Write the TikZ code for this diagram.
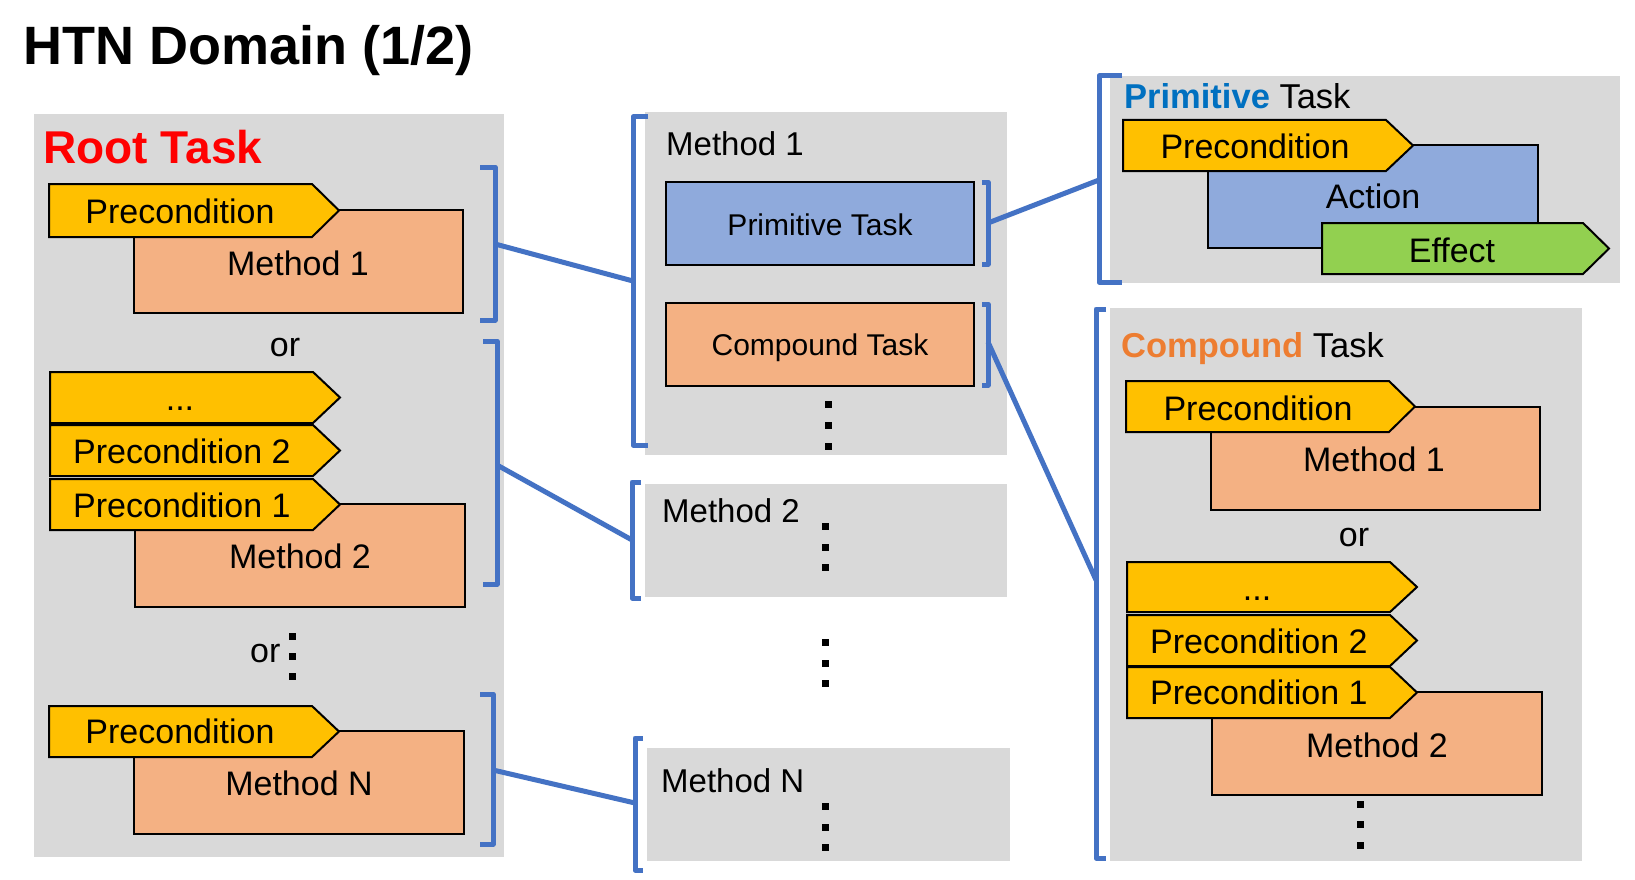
\documentclass[tikz,border=0pt]{standalone}
\usepackage{fontspec}
\setmainfont{Liberation Sans}
\newcommand\myfs[1]{\fontsize{#1}{#1}\selectfont}
\definecolor{panel}{HTML}{D9D9D9}
\definecolor{pregold}{HTML}{FFC000}
\definecolor{methfill}{HTML}{F4B183}
\definecolor{primfill}{HTML}{8FAADC}
\definecolor{efffill}{HTML}{92D050}
\definecolor{brk}{HTML}{4472C4}
\definecolor{ptitle}{HTML}{0070C0}
\definecolor{ctitle}{HTML}{ED7D31}
\tikzset{
  panelbox/.style={fill=panel, draw=none},
  prebox/.style={fill=pregold, draw=black, line width=2pt, line join=miter},
  methbox/.style={fill=methfill, draw=black, line width=2pt},
  primbox/.style={fill=primfill, draw=black, line width=2pt},
  effbox/.style={fill=efffill, draw=black, line width=2pt, line join=miter},
  brack/.style={draw=brk, line width=5pt, line join=round},
  conn/.style={draw=brk, line width=5pt},
  txt/.style={inner sep=0pt, font={\myfs{34}}},
  smalltxt/.style={inner sep=0pt, font={\myfs{30}}},
  headtxt/.style={inner sep=0pt, font={\myfs{33}}},
  titletxt/.style={inner sep=0pt, font={\myfs{34.5}}},
  dotsq/.style={fill=black, inner sep=0pt, minimum size=7pt, draw=none}
}
\begin{document}
\begin{tikzpicture}[x=1pt, y=-1pt]
\useasboundingbox (0,0) rectangle (1635,880);
\fill[white] (0,0) rectangle (1635,880);

% title
\node[anchor=base west, inner sep=0pt, font={\myfs{54}\bfseries}] (title) at (23,65) {HTN Domain (1/2)};

% ===== left panel =====
\fill[panelbox] (34,114) rectangle (504,857);
\node[anchor=base west, inner sep=0pt, text=red, font={\myfs{46}\bfseries}] (root) at (43,163) {Root Task};

\draw[methbox] (134,210) rectangle (463,313);
\node[txt, anchor=base] (lm1) at (298,275) {Method 1};
\draw[prebox] (49,184) -- (312,184) -- (339,210.5) -- (312,237) -- (49,237) -- cycle;
\node[txt, anchor=base] (lp1) at (180,223) {Precondition};

\node[txt, anchor=base] (or1) at (285,356) {or};

\draw[methbox] (135,504) rectangle (465,607);
\node[txt, anchor=base] (lm2) at (300,568) {Method 2};
\draw[prebox] (50,372) -- (313,372) -- (340,397.5) -- (313,423) -- (50,423) -- cycle;
\node[txt, anchor=base] (ldots) at (180,410) {...};
\draw[prebox] (50,425) -- (313,425) -- (340,450.5) -- (313,476) -- (50,476) -- cycle;
\node[txt, anchor=base west] (lp2b) at (73,463) {Precondition 2};
\draw[prebox] (50,479) -- (313,479) -- (340,504.5) -- (313,530) -- (50,530) -- cycle;
\node[txt, anchor=base west] (lp2a) at (73,517) {Precondition 1};

\node[txt, anchor=base west] (or2) at (250,662) {or};
\node[dotsq] (ld1) at (292,636) {};
\node[dotsq] (ld2) at (292,656) {};
\node[dotsq] (ld3) at (292,676) {};

\draw[methbox] (134,731) rectangle (464,834);
\node[txt, anchor=base] (lmn) at (299,795) {Method N};
\draw[prebox] (49,706) -- (312,706) -- (339,731.5) -- (312,757) -- (49,757) -- cycle;
\node[txt, anchor=base] (lpn) at (180,743) {Precondition};

% left brackets
\draw[brack] (480,167) -- (495,167) -- (495,320) -- (480,320);
\coordinate (b1) at (495,244);
\draw[brack] (483,341) -- (497,341) -- (497,584) -- (483,584);
\coordinate (b2) at (497,465);
\draw[brack] (480,694) -- (493,694) -- (493,844) -- (480,844);
\coordinate (b3) at (493,770);

% ===== middle =====
\fill[panelbox] (645,112) rectangle (1007,455);
\draw[brack] (648,117) -- (633,117) -- (633,445) -- (648,445);
\coordinate (m1) at (633,281);
\node[headtxt, anchor=base west] (mm1) at (666,155) {Method 1};
\draw[primbox] (666,182) rectangle (974,265);
\node[smalltxt, anchor=base] (mpt) at (820,235) {Primitive Task};
\draw[methbox] (666,303) rectangle (974,386);
\node[smalltxt, anchor=base] (mct) at (820,355) {Compound Task};
\draw[brack] (982,182) -- (988,182) -- (988,264) -- (982,264);
\coordinate (pb) at (988,223);
\draw[brack] (982,304) -- (988,304) -- (988,385) -- (982,385);
\coordinate (cb) at (988,342);
\node[dotsq] (md1) at (828,404) {};
\node[dotsq] (md2) at (828,425) {};
\node[dotsq] (md3) at (828,446) {};

\fill[panelbox] (645,484) rectangle (1007,597);
\draw[brack] (641,482) -- (632,482) -- (632,598) -- (641,598);
\coordinate (m2) at (632,540);
\node[headtxt, anchor=base west] (mm2) at (662,522) {Method 2};
\node[dotsq] (m2d1) at (825,526) {};
\node[dotsq] (m2d2) at (825,547) {};
\node[dotsq] (m2d3) at (825,567) {};

\node[dotsq] (cd1) at (825,642) {};
\node[dotsq] (cd2) at (825,663) {};
\node[dotsq] (cd3) at (825,683) {};

\fill[panelbox] (647,748) rectangle (1010,861);
\draw[brack] (643,738) -- (635,738) -- (635,870) -- (643,870);
\coordinate (mn) at (635,803);
\node[headtxt, anchor=base west] (mmn) at (661,792) {Method N};
\node[dotsq] (mnd1) at (825,806) {};
\node[dotsq] (mnd2) at (825,827) {};
\node[dotsq] (mnd3) at (825,847) {};

% ===== right: primitive =====
\fill[panelbox] (1110,76) rectangle (1620,283);
\draw[brack] (1122,76) -- (1099,76) -- (1099,282) -- (1122,282);
\coordinate (pr) at (1099,180);
\node[titletxt, anchor=base west] (ptit) at (1124,109) {\textcolor{ptitle}{\bfseries Primitive} Task};
\draw[primbox] (1208,145) rectangle (1538,248);
\node[txt, anchor=base] (act) at (1373,208) {Action};
\draw[prebox] (1123,120) -- (1386,120) -- (1413,145.5) -- (1386,171) -- (1123,171) -- cycle;
\node[txt, anchor=base] (ppre) at (1255,158) {Precondition};
\draw[effbox] (1322,223) -- (1583,223) -- (1609,248.5) -- (1583,274) -- (1322,274) -- cycle;
\node[txt, anchor=base] (peff) at (1452,262) {Effect};

% ===== right: compound =====
\fill[panelbox] (1110,308) rectangle (1582,861);
\draw[brack] (1106,309) -- (1096,309) -- (1096,858) -- (1106,858);
\coordinate (cr) at (1096,580);
\node[titletxt, anchor=base west] (ctit) at (1121,357) {\textcolor{ctitle}{\bfseries Compound} Task};

\draw[methbox] (1211,407) rectangle (1540,510);
\node[txt, anchor=base] (cm1) at (1374,471) {Method 1};
\draw[prebox] (1126,381) -- (1389,381) -- (1415,406.5) -- (1389,432) -- (1126,432) -- cycle;
\node[txt, anchor=base] (cp) at (1258,420) {Precondition};

\node[txt, anchor=base] (cor) at (1354,546) {or};

\draw[methbox] (1212,692) rectangle (1542,795);
\node[txt, anchor=base] (cm2) at (1377,757) {Method 2};
\draw[prebox] (1127,562) -- (1390,562) -- (1417,587) -- (1390,612) -- (1127,612) -- cycle;
\node[txt, anchor=base] (cdots) at (1257,600) {...};
\draw[prebox] (1127,615) -- (1390,615) -- (1417,640.5) -- (1390,666) -- (1127,666) -- cycle;
\node[txt, anchor=base west] (cp2) at (1150,653) {Precondition 2};
\draw[prebox] (1127,667) -- (1390,667) -- (1417,692.5) -- (1390,718) -- (1127,718) -- cycle;
\node[txt, anchor=base west] (cp1) at (1150,704) {Precondition 1};

\node[dotsq] (rd1) at (1360,804) {};
\node[dotsq] (rd2) at (1360,824) {};
\node[dotsq] (rd3) at (1360,845) {};

% connectors
\draw[conn] (b1) -- (m1);
\draw[conn] (b2) -- (m2);
\draw[conn] (b3) -- (mn);
\draw[conn] (pb) -- (pr);
\draw[conn] (cb) -- (cr);
\end{tikzpicture}
\end{document}
